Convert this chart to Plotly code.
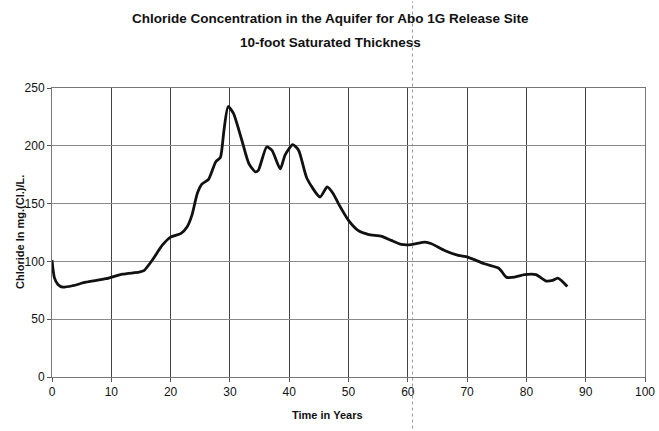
import plotly.graph_objects as go

# Chloride concentration over time (years, mg/L)
years = [0, 0.4, 1.0, 1.8, 3.5, 5.7, 9.1, 11.9, 14.7, 15.5, 16.9, 18.6, 20, 21.7,
         22.8, 23.6, 24.5, 25.3, 26.4, 27.6, 28.4, 29.0, 29.7, 30.6, 32, 33.2, 34.3,
         34.8, 36.2, 37.1, 38.5, 39.3, 40.6, 41.6, 43, 45.2, 46.4, 47.4, 48.3, 50,
         51.6, 53.3, 55.6, 57.2, 58.9, 60.6, 62.9, 64, 66.2, 68.5, 70.1, 72.9, 75.2,
         75.7, 76.6, 78, 79.7, 81.6, 83.3, 84.4, 85.3, 86.9]
chloride = [101, 86, 80, 77.7, 79, 82, 85, 89, 90.7, 92, 101, 114, 121, 124,
            130, 140, 158.7, 167, 171, 186, 190, 213.5, 234, 228, 205, 184.6, 177.4,
            178.8, 199, 196, 180, 192, 201, 196, 171.7, 155.7, 164.4, 158.7, 150, 135.5,
            126.9, 123.4, 121.7, 118.2, 114.7, 114.5, 116.7, 115.3, 109.5, 105.2, 103.7, 98, 94.5,
            92.2, 86.4, 86.4, 88.5, 88.5, 83, 83.5, 85.5, 78.3]

x_ticks = list(range(0, 101, 10))
y_ticks = list(range(0, 251, 50))

title_lines = ["Chloride Concentration in the Aquifer for Abo 1G Release Site",
               "10-foot Saturated Thickness"]
x_title = "Time in Years"
y_title = "Chloride In mg.(Cl.)/L."

FONT = "Liberation Sans, Arial, sans-serif"

# plot-area geometry in pixels
W, H = 659, 431
L, R, T, B = 52, 14, 88, 54
PW, PH = W - L - R, H - T - B


def px_x(p):
    return (p - L) / PW


def px_y(p):
    return 1 - (p - T) / PH


fig = go.Figure()
fig.add_trace(go.Scatter(
    x=years, y=chloride, mode="lines",
    line=dict(color="#111111", width=2.8, shape="spline", smoothing=0.6),
    showlegend=False, hoverinfo="x+y",
))

fig.update_layout(
    width=W, height=H,
    margin=dict(l=L, r=R, t=T, b=B),
    paper_bgcolor="white", plot_bgcolor="white",
    font=dict(family=FONT, color="#111111", size=11),
    xaxis=dict(
        range=[0, 100], tickvals=x_ticks, ticktext=[str(v) for v in x_ticks],
        automargin=False,
        showgrid=True, gridcolor="#444444", gridwidth=1,
        zeroline=False, showline=True, linecolor="#777777", linewidth=1, mirror=True,
        ticks="outside", ticklen=4, tickcolor="#555555",
        tickfont=dict(family=FONT, size=12),
    ),
    yaxis=dict(
        range=[0, 250], tickvals=y_ticks, ticktext=[str(v) for v in y_ticks],
        automargin=False,
        showgrid=True, gridcolor="#8a8a8a", gridwidth=1,
        zeroline=False, showline=True, linecolor="#777777", linewidth=1, mirror=True,
        ticks="outside", ticklen=4, tickcolor="#555555",
        tickfont=dict(family=FONT, size=12),
    ),
)

# two-line heading above the plot area
for text, ypix in zip(title_lines, [18, 42]):
    fig.add_annotation(
        text=f"<b>{text}</b>", xref="paper", yref="paper",
        x=px_x(330), y=px_y(ypix), xanchor="center", yanchor="middle",
        showarrow=False, font=dict(family=FONT, size=13.5, color="#111111"),
    )

# axis titles
fig.add_annotation(
    text=f"<b>{x_title}</b>", xref="paper", yref="paper",
    x=px_x(327), y=px_y(415), xanchor="center", yanchor="middle",
    showarrow=False, font=dict(family=FONT, size=11, color="#111111"),
)
fig.add_annotation(
    text=f"<b>{y_title}</b>", xref="paper", yref="paper",
    x=px_x(20), y=px_y(232), xanchor="center", yanchor="middle", textangle=-90,
    showarrow=False, font=dict(family=FONT, size=11, color="#111111"),
)

# faint vertical crease running down the sheet
fig.add_shape(type="line", xref="x", yref="paper", x0=60.8, x1=60.8, y0=-0.22, y1=1.3,
              line=dict(color="#9a9a9a", width=1, dash="dot"), layer="below")

fig.write_html("out.html")
